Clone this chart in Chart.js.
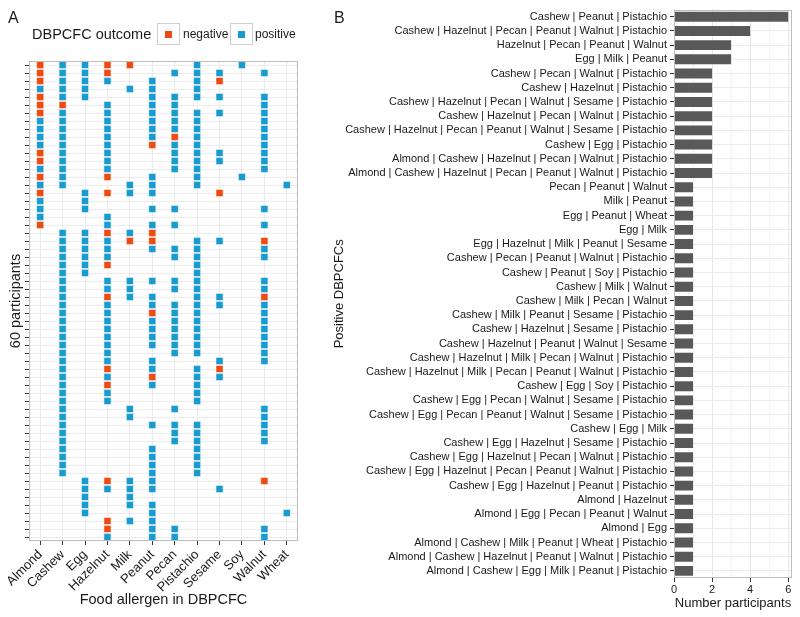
<!DOCTYPE html>
<html>
<head>
<meta charset="utf-8">
<script src="https://cdn.jsdelivr.net/npm/chart.js@4.4.1/dist/chart.umd.min.js"></script>
<style>
  body { margin: 0; background: #fff; font-family: 'Liberation Sans', Arial, sans-serif; color: #1a1a1a; }
  #wrap { position: relative; width: 800px; height: 617px; overflow: hidden; }
  canvas { position: absolute; top: 0; }
  #chartA { left: 0; }
  #chartB { left: 320px; }
  .tag { position: absolute; top: 10px; font-size: 16px; line-height: 16px; }
  .legend-title { position: absolute; left: 32px; top: 25px; font-size: 14.5px; line-height: 18px; }
  .key { position: absolute; top: 23px; width: 21px; height: 20px; border: 1px solid #cfcfcf; }
  .key span { position: absolute; left: 7px; top: 7px; width: 7px; height: 7px; }
  .key-label { position: absolute; top: 27px; font-size: 12px; line-height: 14px; }
</style>
</head>
<body>
<div id="wrap">
  <canvas id="chartA" width="320" height="617"></canvas>
  <canvas id="chartB" width="480" height="617"></canvas>
  <div class="tag" style="left:8px">A</div>
  <div class="tag" style="left:334px">B</div>
  <div class="legend-title">DBPCFC outcome</div>
  <div class="key" style="left:157px"><span style="background:#EE4B12"></span></div>
  <div class="key-label" style="left:183px">negative</div>
  <div class="key" style="left:230px"><span style="background:#1A9BD0"></span></div>
  <div class="key-label" style="left:255px">positive</div>
</div>
<script>
// ---- Panel A data: one string per participant, one char per food ----
// '+' positive challenge, '-' negative challenge, '.' not challenged
const foods = ['Almond', 'Cashew', 'Egg', 'Hazelnut', 'Milk', 'Peanut', 'Pecan', 'Pistachio', 'Sesame', 'Soy', 'Walnut', 'Wheat'];
const outcomeRows = [
    '-++--..+.+..', '-++-..+++.+.', '-+++.+.+-...', '+++.++.+....', '-++..++++.+.',
    '--.+.++...+.', '-+.+.++++.+.', '++.+.+++..+.', '++.+.+++..+.', '++.+.+-+..+.',
    '++.+.-++..+.', '-+.+..+++.+.', '-+.+..+++.+.', '++.+..++..+.', '-+.-.+.+.+..',
    '++..++.+...+', '-.+-++..-...', '+.+.........', '+.+..++...+.', '+..+........',
    '-..+.++...+.', '.++-+-......', '.+++--.++.-.', '.+++.+++..+.', '.+++..++..+.',
    '.++-...+....', '.++....+....', '.+.+++++..+.', '.+.++.++..+.', '.+.-++.++.-.',
    '.+.+.++++.+.', '.+.+.-++..+.', '.+.+.+++..+.', '.+.+.+++..+.', '.+.+.+++..+.',
    '.+.+.+++..+.', '.+.+..++..+.', '.+.+.+..+.+.', '.+.-.+.+-...', '.+.+.-.++...',
    '.+.-.+.+....', '.+.+...+....', '.+.+...+....', '.+..+.+...+.', '.+..+.....+.',
    '.+...+++..+.', '.+....++..+.', '.+....++..+.', '.+...+.+....', '.+...+.+....',
    '.+...+.+....', '.+...+.+....', '..+-++....-.', '..++++..+...', '..+.+.......',
    '..+.++......', '..+..+.....+', '...-++......', '...-.++...+.', '...+.++...+.'
];
const participants = outcomeRows.map((r, i) => 'P' + (i + 1));

// ---- Panel B data ----
const combos = [
    'Cashew | Peanut | Pistachio',
    'Cashew | Hazelnut | Pecan | Peanut | Walnut | Pistachio',
    'Hazelnut | Pecan | Peanut | Walnut',
    'Egg | Milk | Peanut',
    'Cashew | Pecan | Walnut | Pistachio',
    'Cashew | Hazelnut | Pistachio',
    'Cashew | Hazelnut | Pecan | Walnut | Sesame | Pistachio',
    'Cashew | Hazelnut | Pecan | Walnut | Pistachio',
    'Cashew | Hazelnut | Pecan | Peanut | Walnut | Sesame | Pistachio',
    'Cashew | Egg | Pistachio',
    'Almond | Cashew | Hazelnut | Pecan | Walnut | Pistachio',
    'Almond | Cashew | Hazelnut | Pecan | Peanut | Walnut | Pistachio',
    'Pecan | Peanut | Walnut',
    'Milk | Peanut',
    'Egg | Peanut | Wheat',
    'Egg | Milk',
    'Egg | Hazelnut | Milk | Peanut | Sesame',
    'Cashew | Pecan | Peanut | Walnut | Pistachio',
    'Cashew | Peanut | Soy | Pistachio',
    'Cashew | Milk | Walnut',
    'Cashew | Milk | Pecan | Walnut',
    'Cashew | Milk | Peanut | Sesame | Pistachio',
    'Cashew | Hazelnut | Sesame | Pistachio',
    'Cashew | Hazelnut | Peanut | Walnut | Sesame',
    'Cashew | Hazelnut | Milk | Pecan | Walnut | Pistachio',
    'Cashew | Hazelnut | Milk | Pecan | Peanut | Walnut | Pistachio',
    'Cashew | Egg | Soy | Pistachio',
    'Cashew | Egg | Pecan | Walnut | Sesame | Pistachio',
    'Cashew | Egg | Pecan | Peanut | Walnut | Sesame | Pistachio',
    'Cashew | Egg | Milk',
    'Cashew | Egg | Hazelnut | Sesame | Pistachio',
    'Cashew | Egg | Hazelnut | Pecan | Walnut | Pistachio',
    'Cashew | Egg | Hazelnut | Pecan | Peanut | Walnut | Pistachio',
    'Cashew | Egg | Hazelnut | Peanut | Pistachio',
    'Almond | Hazelnut',
    'Almond | Egg | Pecan | Peanut | Walnut',
    'Almond | Egg',
    'Almond | Cashew | Milk | Peanut | Wheat | Pistachio',
    'Almond | Cashew | Hazelnut | Peanut | Walnut | Pistachio',
    'Almond | Cashew | Egg | Milk | Peanut | Pistachio'
];
const comboCounts = [6, 4, 3, 3, 2, 2, 2, 2, 2, 2, 2, 2,
    1, 1, 1, 1, 1, 1, 1, 1, 1, 1, 1, 1, 1, 1, 1, 1, 1, 1, 1, 1, 1, 1, 1, 1, 1, 1, 1, 1];

const FONT = "'Liberation Sans', Arial, sans-serif";
const TEXT = '#1a1a1a';
Chart.defaults.font.family = FONT;
Chart.defaults.color = TEXT;

// grey box round the plotting panel, like a ggplot panel border
const panelBorder = {
    id: 'panelBorder',
    afterDraw(chart) {
        const { ctx, chartArea: a } = chart;
        ctx.save();
        ctx.strokeStyle = '#bdbdbd';
        ctx.lineWidth = 1;
        ctx.strokeRect(Math.round(a.left) + 0.5, Math.round(a.top) + 0.5,
            Math.round(a.width) - 1, Math.round(a.height) - 1);
        ctx.restore();
    }
};

function tilesFor(mark) {
    const pts = [];
    outcomeRows.forEach((row, r) => {
        row.split('').forEach((c, f) => {
            if (c === mark) pts.push({ x: foods[f], y: participants[r] });
        });
    });
    return pts;
}

const tileStyle = {
    pointStyle: 'rect',
    pointRadius: 5.1,
    pointHoverRadius: 5.1,
    pointBorderColor: 'rgba(255,255,255,0.75)',
    pointBorderWidth: 0.8,
    showLine: false
};

new Chart(document.getElementById('chartA'), {
    type: 'scatter',
    data: {
        datasets: [
            Object.assign({ label: 'positive', data: tilesFor('+'), pointBackgroundColor: '#1A9BD0' }, tileStyle),
            Object.assign({ label: 'negative', data: tilesFor('-'), pointBackgroundColor: '#EE4B12' }, tileStyle)
        ]
    },
    options: {
        responsive: false,
        animation: false,
        layout: { padding: { top: 61, right: 22, left: 4, bottom: 4 } },
        plugins: { legend: { display: false }, tooltip: { enabled: false } },
        scales: {
            x: {
                type: 'category',
                labels: foods,
                offset: true,
                grid: { offset: false, color: '#ebebeb', tickColor: '#333', tickLength: 4 },
                border: { display: false },
                ticks: { minRotation: 45, maxRotation: 45, padding: 2, autoSkip: false, color: TEXT, font: { size: 13 } },
                title: { display: true, text: 'Food allergen in DBPCFC', color: TEXT, font: { size: 14.5 }, padding: { top: 0, bottom: 4 } },
                afterFit: s => { s.height = 72; }
            },
            y: {
                type: 'category',
                labels: participants,
                offset: true,
                grid: { offset: false, color: '#ebebeb', tickColor: '#333', tickLength: 4 },
                border: { display: false },
                ticks: { autoSkip: false, callback: () => '', padding: 0 },
                title: { display: true, text: '60 participants', color: TEXT, font: { size: 14.5 }, padding: { top: 3, bottom: 0 } },
                afterFit: s => { s.width = 25; }
            }
        }
    },
    plugins: [panelBorder]
});

new Chart(document.getElementById('chartB'), {
    type: 'bar',
    data: {
        labels: combos,
        datasets: [{
            label: 'Number participants',
            data: comboCounts,
            backgroundColor: '#595959',
            barPercentage: 0.7,
            categoryPercentage: 1
        }]
    },
    options: {
        indexAxis: 'y',
        responsive: false,
        animation: false,
        layout: { padding: { top: 7, right: 8, left: 0, bottom: 2 } },
        plugins: { legend: { display: false }, tooltip: { enabled: false } },
        scales: {
            x: {
                min: 0,
                max: 6.2,
                grid: {
                    color: c => (c.tick && c.tick.value % 2 === 0 ? '#e6e6e6' : '#f4f4f4'),
                    tickColor: c => (c.tick && c.tick.value % 2 === 0 ? '#333' : 'rgba(0,0,0,0)'),
                    tickLength: 4
                },
                border: { display: false },
                ticks: {
                    stepSize: 1,
                    includeBounds: false,
                    padding: 1,
                    color: TEXT,
                    font: { size: 11 },
                    callback: v => (v % 2 === 0 ? v : '')
                },
                title: { display: true, text: 'Number participants', color: TEXT, font: { size: 13 }, padding: { top: 0, bottom: 4 } },
                afterFit: s => { s.height = 37; }
            },
            y: {
                grid: { color: '#ebebeb', tickColor: '#333', tickLength: 4, offset: false },
                border: { display: false },
                ticks: { autoSkip: false, padding: 3, color: TEXT, font: { size: 11 } },
                title: { display: true, text: 'Positive DBPCFCs', color: TEXT, font: { size: 13 }, padding: { top: 12, bottom: 0 } },
                afterFit: s => { s.width = 354; }
            }
        }
    },
    plugins: [panelBorder]
});
</script>
</body>
</html>
